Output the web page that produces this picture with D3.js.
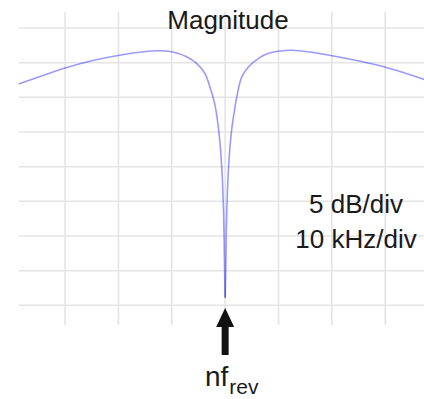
<!DOCTYPE html>
<html>
<head>
<meta charset="utf-8">
<script src="https://cdn.jsdelivr.net/npm/d3@7"></script>
<style>
  html, body { margin: 0; padding: 0; background: #fff; }
  svg { display: block; }
  text { font-family: "Liberation Sans", Arial, sans-serif; fill: #1a1a1a; }
</style>
</head>
<body>
<svg id="chart" width="424" height="399"></svg>
<script>
// ---- data (frequency offset in kHz, magnitude in dB) ----
const freqKHz = [-38.7, -34.7, -30.0, -25.0, -20.1, -16.0, -12.25, -10.0, -7.24, -5.36, -3.8, -2.87, -2.12, -1.74, -1.2, -0.86, -0.6, -0.43, -0.3, -0.2, -0.12, 0,
                 0.12, 0.2, 0.3, 0.43, 0.6, 0.86, 1.2, 1.76, 2.19, 3.13, 4.39, 6.26, 8.14, 10.3, 12.5, 16.25, 20.0, 24.9, 29.9, 33.5, 37.3, 38.6];
const magDB   = [-8.08, -7.0, -5.77, -4.73, -3.97, -3.5, -3.29, -3.42, -4.14, -5.09, -6.53, -8.47, -10.4, -11.8, -14.8, -17.6, -20.6, -23.4, -26.5, -30.0, -34.4, -38.9,
                 -34.4, -30.0, -26.5, -23.4, -20.6, -17.6, -14.8, -11.8, -9.9, -7.02, -5.58, -4.37, -3.65, -3.32, -3.2, -3.5, -4.01, -4.73, -5.63, -6.46, -7.43, -7.79];
const gridDB  = [0, -5, -10, -15, -20, -25, -30, -35, -40];
const gridKHz = [-30, -20, -10, 0, 10, 20, 30];
const notchKHz = 0;
const titleText = "Magnitude";
const scaleLabels = ["5 dB/div", "10 kHz/div"];
const markerMain = "nf";
const markerSub = "rev";

// ---- scales ----
const xDomain = [-38.63, 38.63];
const yDomain = [2.31, -42.84];
const x = d3.scaleLinear().domain(xDomain).range([19, 431.3]);
const y = d3.scaleLinear().domain(yDomain).range([12, 325]);

const svg = d3.select("#chart");

// grid
const grid = svg.append("g");
grid.selectAll("line.v").data(gridKHz).join("line")
  .attr("class", "v")
  .attr("x1", d => x(d)).attr("x2", d => x(d))
  .attr("y1", y(yDomain[0])).attr("y2", y(yDomain[1]))
  .attr("stroke", "#e2e2e2").attr("stroke-width", 1.5);
grid.selectAll("line.h").data(gridDB).join("line")
  .attr("class", "h")
  .attr("x1", x(xDomain[0])).attr("x2", x(xDomain[1]))
  .attr("y1", d => y(d)).attr("y2", d => y(d))
  .attr("stroke", "#e4e4e4").attr("stroke-width", 1.5);

// curve (two halves so the overlap near the notch darkens like the original)
const pts = freqKHz.map((f, i) => ({f, m: magDB[i]}));
const left = pts.filter(p => p.f <= notchKHz);
const right = pts.filter(p => p.f >= notchKHz);
const line = d3.line().x(p => x(p.f)).y(p => y(p.m)).curve(d3.curveCatmullRom.alpha(0.5));
[left, right].forEach(part => {
  svg.append("path").datum(part)
    .attr("d", line)
    .attr("fill", "none")
    .attr("stroke", "rgb(0,0,255)")
    .attr("stroke-opacity", 0.4)
    .attr("stroke-width", 1.6);
});

// title
svg.append("text").attr("x", 228).attr("y", 29)
  .attr("text-anchor", "middle").attr("font-size", 26).text(titleText);

// scale labels
scaleLabels.forEach((t, i) => {
  svg.append("text").attr("x", 356).attr("y", 213.3 + i * 35)
    .attr("text-anchor", "middle").attr("font-size", 26).text(t);
});

// arrow
const ax = x(notchKHz);
svg.append("rect").attr("x", ax - 3.5).attr("y", 325).attr("width", 7).attr("height", 30).attr("fill", "#111");
svg.append("path")
  .attr("d", `M${ax - 9},327 L${ax + 9},327 L${ax},308 Z`)
  .attr("fill", "#111");

// marker label nf_rev
const lbl = svg.append("text").attr("x", 205).attr("y", 386).attr("font-size", 28);
lbl.append("tspan").text(markerMain);
lbl.append("tspan").attr("dy", 8).attr("font-size", 21).attr("dx", 1).text(markerSub);
</script>
</body>
</html>
